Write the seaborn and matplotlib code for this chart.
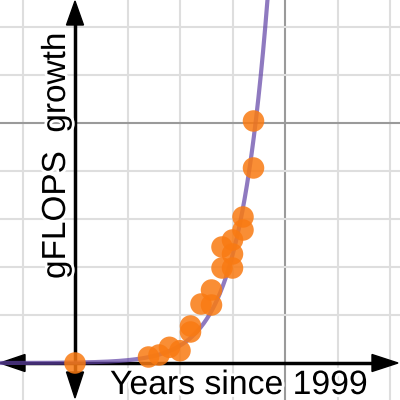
import numpy as np
import pandas as pd
import seaborn as sns
import matplotlib
matplotlib.use("Agg")
import matplotlib.pyplot as plt
from matplotlib.patches import Polygon
import matplotlib.patheffects as pe

# ---- data ----
years = [0, 7, 8, 9, 10, 11, 11, 12, 13, 13, 14, 14, 15, 15, 15, 16, 16, 17, 17]
gflops = [0, 125, 167, 327, 256, 771, 646, 1229, 1521, 1208, 2417, 1979, 2563,
          2271, 1979, 3042, 2771, 4063, 5042]
# exponential regression y = a * b^x (coefficients)
fit_a = 9.46
fit_b = 1.44
x_label = "Years since 1999"
y_label = "gFLOPS  growth"

df = pd.DataFrame({"year": years, "gflops": gflops})
xs = np.linspace(-7.2, 19.0, 600)
curve = pd.DataFrame({"year": xs, "gflops": fit_a * fit_b ** xs})

sns.set_theme(style="white")
plt.rcParams["font.family"] = ["Liberation Sans", "DejaVu Sans"]

fig = plt.figure(figsize=(4, 4), dpi=100)
ax = fig.add_axes([0, 0, 1, 1])
xmin, xmax = -75 / 10.5, 325 / 10.5
ymin, ymax = -37 / 48 * 1000, 363 / 48 * 1000
ax.set_xlim(xmin, xmax)
ax.set_ylim(ymin, ymax)
for s in ax.spines.values():
    s.set_visible(False)
ax.set_xticks([])
ax.set_yticks([])

# grid
for gx in np.arange(-5, 35, 5):
    if gx == 0:
        continue
    major = (gx % 20 == 0)
    ax.axvline(gx, color="#9a9a9a" if major else "#dedede", lw=1.5, zorder=0)
for gy in np.arange(1000, 8000, 1000):
    major = (gy % 5000 == 0)
    ax.axhline(gy, color="#9a9a9a" if major else "#dedede", lw=1.5, zorder=0)

# axes with arrows (pixel helpers)
W = H = 400.0
ax_px_x = 75
ax_px_y = 363
def fx(px):
    return px / W
def fy(py):
    return 1 - py / H

ax.plot([fx(ax_px_x), fx(ax_px_x)], [fy(372), fy(24)], transform=ax.transAxes,
        color="black", lw=2.5, zorder=2, solid_capstyle="butt")
ax.plot([fx(24), fx(372)], [fy(ax_px_y), fy(ax_px_y)], transform=ax.transAxes,
        color="black", lw=2.5, zorder=2, solid_capstyle="butt")
tri = [
    [(ax_px_x, 1), (ax_px_x - 8.5, 25), (ax_px_x + 8.5, 25)],
    [(ax_px_x, 398), (ax_px_x - 8.5, 372), (ax_px_x + 8.5, 372)],
    [(0, ax_px_y), (25, ax_px_y - 8.5), (25, ax_px_y + 8.5)],
    [(398, ax_px_y), (372, ax_px_y - 8.5), (372, ax_px_y + 8.5)],
]
for t in tri:
    ax.add_patch(Polygon([(fx(a), fy(b)) for a, b in t], closed=True,
                         transform=ax.transAxes, color="black", zorder=2))

sns.lineplot(data=curve, x="year", y="gflops", ax=ax, color="#6042a6",
             alpha=0.7, lw=3, zorder=3, legend=False)
sns.scatterplot(data=df, x="year", y="gflops", ax=ax, color="#f97a12",
                alpha=0.85, s=240, edgecolor="none", zorder=4, legend=False)
ax.set_xlabel("")
ax.set_ylabel("")

halo = [pe.withStroke(linewidth=4, foreground="white")]
fig.text(fx(110), fy(394), x_label, ha="left", va="baseline", fontsize=24.3,
         color="black", path_effects=halo, zorder=5)
fig.text(fx(65), fy(279), y_label, ha="left", va="baseline", rotation=90,
         rotation_mode="anchor", fontsize=24, color="black",
         path_effects=halo, zorder=5)

fig.savefig("out.png", dpi=100)
